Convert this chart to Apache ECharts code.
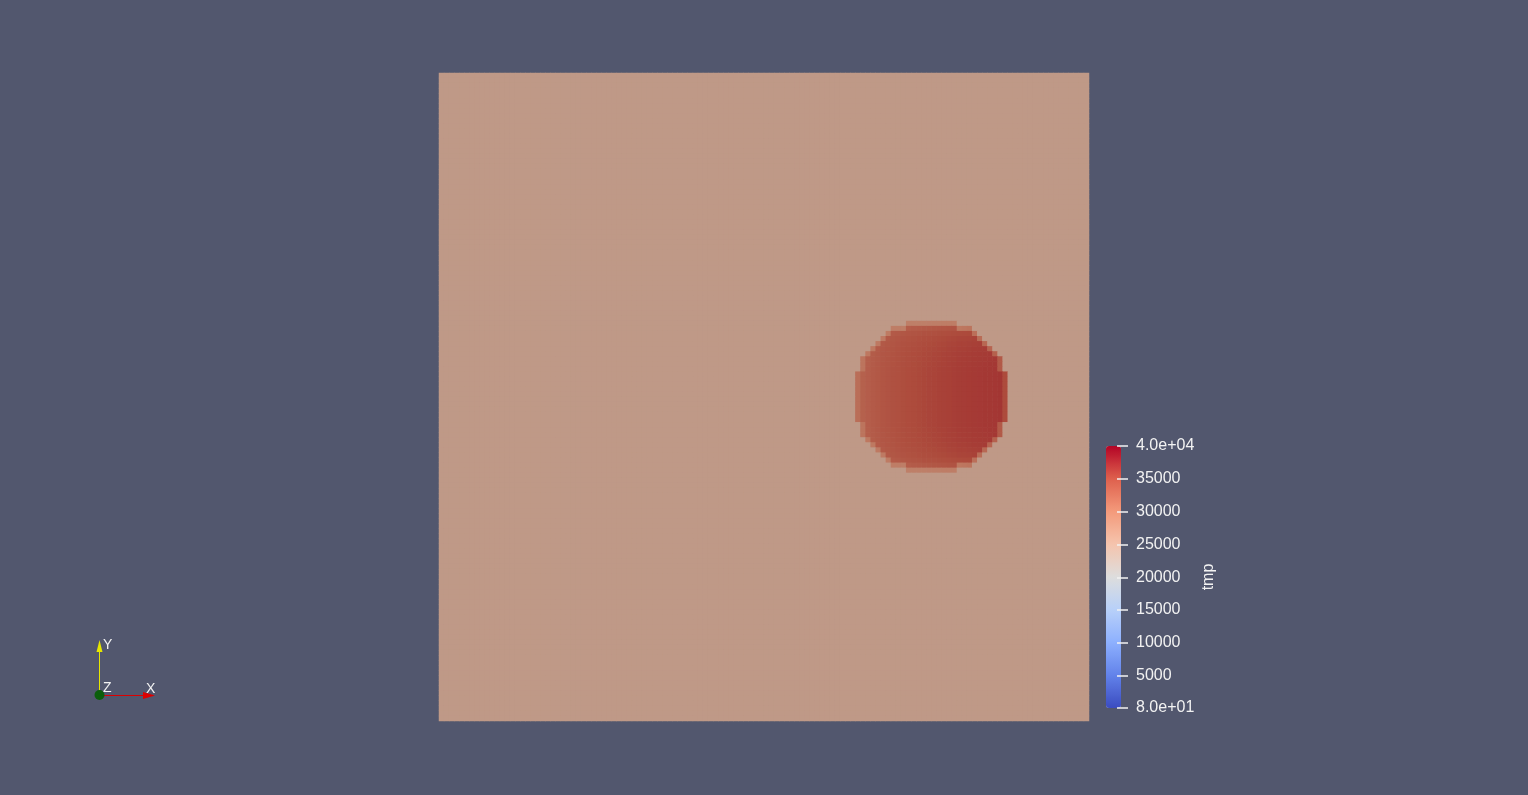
<!DOCTYPE html>
<html>
<head>
<meta charset="utf-8">
<script src="https://cdn.jsdelivr.net/npm/echarts@6/dist/echarts.min.js"></script>
<style>
html,body{margin:0;padding:0;background:#52576e;overflow:hidden;}
#c{width:1528px;height:795px;}
</style>
</head>
<body>
<div id="c"></div>
<script>
// ---- data ----
const gridSize = 128;                 // cells per side of the square field
const backgroundValue = 25000;        // tmp outside the hot blob
const blobFirstRow = 49;              // first row (from top) of the blob
const blobFirstCol = 82;              // first column of the blob
// first / last column of the blob in each of its 30 rows
const rowStart = [92, 89, 88, 87, 86, 85, 84, 83, 83, 83,
                  82, 82, 82, 82, 82, 82, 82, 82, 82, 82,
                  83, 83, 83, 84, 85, 86, 87, 88, 89, 92];
const rowEnd   = [101, 104, 105, 106, 107, 108, 109, 110, 110, 110,
                  111, 111, 111, 111, 111, 111, 111, 111, 111, 111,
                  110, 110, 110, 109, 108, 107, 106, 105, 104, 101];
// interior tmp per blob column (cols 82..111)
const columnValues = [31500, 32600, 33000, 33300, 33600, 33900, 34100, 34300, 34500, 34700,
                      34850, 35000, 35150, 35300, 35400, 35500, 35600, 35700, 35800, 35900,
                      36000, 36050, 36100, 36200, 36250, 36300, 36350, 36400, 36450, 36500];
// tmp of the boundary (rim) cells per blob column
const rimValues = [31100, 30500, 30000, 29900, 29800, 29700, 29600, 29300, 29200, 29100,
                   29000, 29000, 29000, 29000, 29050, 29100, 29150, 29200, 29250, 29300,
                   30000, 30200, 30500, 31000, 31400, 31800, 32200, 32600, 33500, 35000];
// cooling near the top and bottom of the blob, per blob row
const rowOffsets = [0, -1800, -1000, -600, -400, -250, -150, -100, -50, 0,
                    0, 0, 0, 0, 0, 0, 0, 0, 0, 0,
                    0, -50, -100, -150, -250, -400, -600, -1000, -1800, 0];
const colorbarMin = 80;
const colorbarMax = 40000;
const colorbarTicks = [80, 5000, 10000, 15000, 20000, 25000, 30000, 35000, 40000];
const colorbarTickLabels = ['8.0e+01', '5000', '10000', '15000', '20000', '25000', '30000', '35000', '4.0e+04'];
const colorbarTitle = 'tmp';
const triadLabels = ['X', 'Y', 'Z'];

// ---- build heatmap table ----
function inBlob(r, c) {
  const i = r - blobFirstRow;
  if (i < 0 || i >= rowStart.length) return false;
  return c >= rowStart[i] && c <= rowEnd[i];
}
const cells = [];
for (let r = 0; r < gridSize; r++) {
  for (let c = 0; c < gridSize; c++) {
    let v = backgroundValue;
    if (inBlob(r, c)) {
      const i = r - blobFirstRow, j = c - blobFirstCol;
      const rim = !inBlob(r - 1, c) || !inBlob(r + 1, c) || !inBlob(r, c - 1) || !inBlob(r, c + 1);
      v = rim ? rimValues[j] : columnValues[j] + rowOffsets[i];
    }
    cells.push([c, r, v]);
  }
}
const idx = [];
for (let k = 0; k < gridSize; k++) idx.push(k);

// ---- colours ----
const coolWarm = ['#3b4cc0', '#6282ea', '#8db0fe', '#b8d0f9', '#dddddd', '#f5c4ad', '#f49a7b', '#de604d', '#b40426'];
const litCoolWarm = ['#2e3b96', '#4c65b7', '#6e89c6', '#90a2c2', '#acacac', '#bf9987', '#be7860', '#ad4b3c', '#8c031e'];
const fieldBase = '#bf9987';
const txt = '#f2f2f2';
const font = '"Liberation Sans", Arial, sans-serif';

const chart = echarts.init(document.getElementById('c'), null, {renderer: 'canvas'});
chart.setOption({
  animation: false,
  backgroundColor: '#52576e',
  grid: [
    {left: 439, top: 73, width: 650, height: 648, show: true, backgroundColor: fieldBase, borderWidth: 0},
    {left: 1117, top: 446, width: 11, height: 262, show: false}
  ],
  xAxis: [
    {type: 'category', data: idx, gridIndex: 0, show: false},
    {type: 'value', gridIndex: 1, show: false, min: 0, max: 1}
  ],
  yAxis: [
    {type: 'category', data: idx, gridIndex: 0, show: false, inverse: true},
    {
      type: 'value', gridIndex: 1, position: 'right', offset: 0, z: 10,
      min: colorbarMin, max: colorbarMax,
      splitLine: {show: false},
      axisLine: {show: false},
      axisTick: {show: true, inside: false, length: 11, lineStyle: {color: txt, width: 1.5}, customValues: colorbarTicks},
      axisLabel: {
        show: true, margin: 8, color: txt, fontSize: 16, fontFamily: font,
        customValues: colorbarTicks,
        formatter: function (v) { const k = colorbarTicks.indexOf(v); return k >= 0 ? colorbarTickLabels[k] : ''; }
      },
      name: colorbarTitle, nameLocation: 'middle', nameRotate: 90, nameGap: 73,
      nameTextStyle: {color: txt, fontSize: 16, fontFamily: font}
    }
  ],
  visualMap: [
    {
      type: 'continuous', show: false, seriesIndex: 0,
      min: colorbarMin, max: colorbarMax,
      inRange: {color: litCoolWarm}
    },
    {
      type: 'continuous', show: true, seriesIndex: [], z: 2,
      min: colorbarMin, max: colorbarMax, calculable: false, hoverLink: false,
      orient: 'vertical', left: 1106, top: 446, padding: 0,
      itemWidth: 15, itemHeight: 262, text: null, showLabel: false,
      inRange: {color: coolWarm}
    }
  ],
  series: [{
    type: 'heatmap', xAxisIndex: 0, yAxisIndex: 0,
    data: cells, progressive: 0, silent: true,
    itemStyle: {borderWidth: 0}
  }],
  graphic: [
    {type: 'line', shape: {x1: 99.5, y1: 695, x2: 99.5, y2: 651}, style: {stroke: '#e6e600', lineWidth: 1}, silent: true},
    {type: 'polygon', shape: {points: [[96.5, 652], [102.5, 652], [99.5, 640]]}, style: {fill: '#e6e600'}, silent: true},
    {type: 'line', shape: {x1: 99, y1: 695.5, x2: 144, y2: 695.5}, style: {stroke: '#dc0000', lineWidth: 1}, silent: true},
    {type: 'polygon', shape: {points: [[143, 692], [143, 699], [155, 695.5]]}, style: {fill: '#dc0000'}, silent: true},
    {type: 'circle', shape: {cx: 99.5, cy: 695, r: 5}, style: {fill: '#0b5e0b'}, silent: true},
    {type: 'text', x: 103, y: 638, style: {text: triadLabels[1], fill: txt, font: '14px ' + font}, silent: true},
    {type: 'text', x: 146, y: 682, style: {text: triadLabels[0], fill: txt, font: '14px ' + font}, silent: true},
    {type: 'text', x: 103, y: 681, style: {text: triadLabels[2], fill: txt, font: '14px ' + font}, silent: true}
  ]
});
</script>
</body>
</html>
